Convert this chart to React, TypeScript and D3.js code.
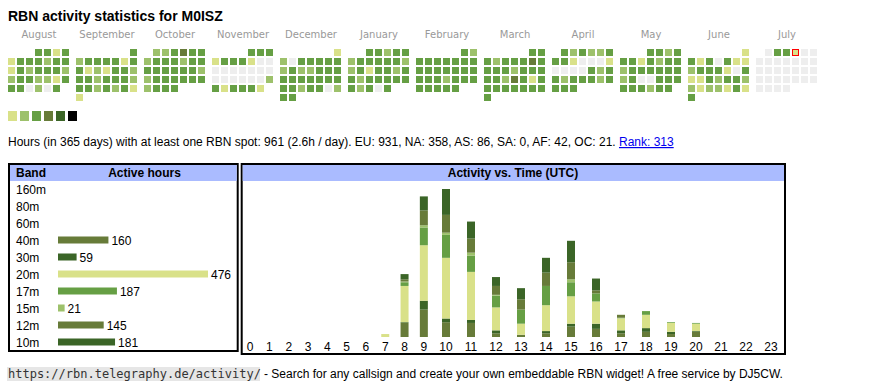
import React, { useRef, useEffect } from "react";
import * as d3 from "d3";

// calendar: Aug 2024 .. Jul 2025, one digit per day (0 = no spot, 1..5 = level)
const monthNames = ["August", "September", "October", "November", "December", "January", "February", "March", "April", "May", "June", "July"];
const monthStarts = ["2024-08", "2024-09", "2024-10", "2024-11", "2024-12", "2025-01", "2025-02", "2025-03", "2025-04", "2025-05", "2025-06", "2025-07"];
const monthLevels = [
  "3313" + "1333233" + "1323332" + "2332213" + "330203",
  "3" + "2333313" + "3121332" + "3323332" + "3323231" + "1",
  "223433" + "2333233" + "3333332" + "2333333" + "2333",
  "333" + "1333100" + "0000000" + "0000002" + "313331",
  "1" + "2033333" + "2322333" + "3333333" + "3323302" + "33",
  "33233" + "2333332" + "2313323" + "3233333" + "32303",
  "32" + "3333333" + "3333333" + "3332333" + "33333",
  "33" + "3233343" + "3332333" + "3324313" + "3333333" + "3",
  "323223" + "3310001" + "0000323" + "3233323" + "333",
  "3323" + "3313233" + "2333333" + "2300333" + "333233",
  "1" + "3130311" + "2333103" + "1132332" + "2122131" + "3",
  "033100" + "0000000" + "0000000" + "0000000" + "0000",
];
const today = "2025-07-04";

const levelColors = ["#eeeeee", "#d9e189", "#9dc16b", "#669f44", "#677b39", "#3b6527", "#000000"];

// bands
const bands = ["160m", "80m", "60m", "40m", "30m", "20m", "17m", "15m", "12m", "10m"];
const bandHours = [0, 0, 0, 160, 59, 476, 187, 21, 145, 181];
const bandColors = ["#3b6527", "#d9e189", "#669f44", "#677b39", "#3b6527", "#d9e189", "#669f44", "#9dc16b", "#677b39", "#3b6527"];

// activity per UTC hour, per band
const hours = d3.range(24).map(String);
const hourly: Record<string, number[]> = {
  "160m": [0, 0, 0, 0, 0, 0, 0, 0, 0, 0, 0, 0, 0, 0, 0, 0, 0, 0, 0, 0, 0, 0, 0, 0],
  "80m": [0, 0, 0, 0, 0, 0, 0, 0, 0, 0, 0, 0, 0, 0, 0, 0, 0, 0, 0, 0, 0, 0, 0, 0],
  "60m": [0, 0, 0, 0, 0, 0, 0, 0, 0, 0, 0, 0, 0, 0, 0, 0, 0, 0, 0, 0, 0, 0, 0, 0],
  "40m": [0, 0, 0, 0, 0, 0, 0, 0, 19, 37, 20, 19, 5, 3, 5, 14, 11, 5, 7, 4, 7, 0, 0, 0],
  "30m": [0, 0, 0, 0, 0, 0, 0, 0, 1, 12, 5, 4, 4, 0, 3, 4, 7, 4, 5, 3, 1, 0, 0, 0],
  "20m": [0, 0, 0, 0, 0, 0, 0, 4, 49, 75, 82, 65, 31, 15, 35, 37, 30, 16, 18, 12, 10, 0, 0, 0],
  "17m": [0, 0, 0, 0, 0, 0, 0, 0, 5, 24, 31, 22, 16, 19, 26, 19, 11, 0, 5, 1, 1, 0, 0, 0],
  "15m": [0, 0, 0, 0, 0, 0, 0, 0, 1, 3, 3, 4, 1, 0, 0, 4, 0, 1, 0, 0, 0, 0, 0, 0],
  "12m": [0, 0, 0, 0, 0, 0, 0, 0, 3, 20, 24, 19, 12, 14, 18, 23, 4, 4, 0, 0, 0, 0, 0, 0],
  "10m": [0, 0, 0, 0, 0, 0, 0, 0, 7, 19, 35, 23, 12, 15, 20, 29, 16, 0, 0, 0, 0, 0, 0, 0],
};

const infoText = "Hours (in 365 days) with at least one RBN spot: 961 (2.6h / day). EU: 931, NA: 358, AS: 86, SA: 0, AF: 42, OC: 21. ";
const rankText = "Rank: 313";
const footerUrl = "https://rbn.telegraphy.de/activity/";
const footerText = "- Search for any callsign and create your own embeddable RBN widget! A free service by DJ5CW.";

const SANS = "'Liberation Sans', Arial, sans-serif";

export default function App() {
  const ref = useRef<SVGSVGElement | null>(null);

  useEffect(() => {
    const width = 870;
    const height = 390;
    d3.select(ref.current).selectAll("*").remove();

    const svg = d3.select(ref.current).attr("width", width).attr("height", height);

    svg.append("text")
      .attr("x", 8).attr("y", 21)
      .style("font", `bold 14px ${SANS}`)
      .text("RBN activity statistics for M0ISZ");

    // --- calendar heatmap
    const cell = 7, pitch = 9, blockW = 68, left = 8, top = 49;
    const parse = d3.timeParse("%Y-%m");
    const fmtDay = d3.timeFormat("%Y-%m-%d");

    monthStarts.forEach((ms, i) => {
      const first = parse(ms)!;
      const offset = (first.getDay() + 6) % 7;
      const x0 = left + blockW * i;
      const g = svg.append("g").attr("transform", `translate(${x0},0)`);

      g.append("text")
        .attr("x", (7 * pitch - 2) / 2 + 0.5).attr("y", 38)
        .attr("text-anchor", "middle")
        .style("font", "10px 'DejaVu Sans', Verdana, sans-serif")
        .style("fill", "#999")
        .text(monthNames[i]);

      const days = monthLevels[i].split("").map((v, d) => {
        const date = d3.timeDay.offset(first, d);
        return { level: +v, col: (offset + d) % 7, row: Math.floor((offset + d) / 7), today: fmtDay(date) === today };
      });

      g.selectAll("rect")
        .data(days)
        .join("rect")
        .attr("x", (d) => d.col * pitch + (d.today ? 0.5 : 0))
        .attr("y", (d) => top + d.row * pitch + (d.today ? 0.5 : 0))
        .attr("width", (d) => (d.today ? cell - 1 : cell))
        .attr("height", (d) => (d.today ? cell - 1 : cell))
        .attr("fill", (d) => levelColors[d.level])
        .attr("stroke", (d) => (d.today ? "#ff0000" : "none"))
        .attr("stroke-width", 1);
    });

    // legend
    svg.append("g")
      .selectAll("rect")
      .data(levelColors.slice(1))
      .join("rect")
      .attr("x", (_, i) => 8 + i * 12)
      .attr("y", 111)
      .attr("width", 9)
      .attr("height", 10)
      .attr("fill", (d) => d);

    const info = svg.append("text")
      .attr("x", 8).attr("y", 146)
      .style("font", `12px ${SANS}`)
      .style("fill", "#000");
    info.append("tspan").text(infoText);
    info.append("tspan").style("fill", "#0000ee").style("text-decoration", "underline").text(rankText);

    // --- band table
    svg.append("rect").attr("x", 9).attr("y", 164).attr("width", 228.7).attr("height", 187)
      .attr("fill", "#fff").attr("stroke", "#000").attr("stroke-width", 2);
    svg.append("rect").attr("x", 10).attr("y", 165).attr("width", 226.7).attr("height", 16).attr("fill", "#aabbff");
    svg.append("text").attr("x", 16).attr("y", 177).style("font", `bold 12px ${SANS}`).text("Band");
    svg.append("text").attr("x", 144.5).attr("y", 177).attr("text-anchor", "middle")
      .style("font", `bold 12px ${SANS}`).text("Active hours");

    const bx = d3.scaleLinear().domain([0, d3.max(bandHours)!]).range([0, 150]);
    const by = d3.scalePoint().domain(bands).range([189, 189 + 17 * (bands.length - 1)]);

    const rows = svg.append("g").selectAll("g")
      .data(bands.map((b, i) => ({ band: b, hours: bandHours[i], color: bandColors[i] })))
      .join("g");
    rows.append("text")
      .attr("x", 16).attr("y", (d) => by(d.band)! + 4.5)
      .style("font", `12px ${SANS}`)
      .text((d) => d.band);
    rows.filter((d) => d.hours > 0).append("rect")
      .attr("x", 58).attr("y", (d) => by(d.band)! - 3.5)
      .attr("width", (d) => bx(d.hours)).attr("height", 7)
      .attr("fill", (d) => d.color);
    rows.filter((d) => d.hours > 0).append("text")
      .attr("x", (d) => 58 + bx(d.hours) + 3).attr("y", (d) => by(d.band)! + 4.5)
      .style("font", `12px ${SANS}`)
      .text((d) => d.hours);

    // --- activity vs time
    svg.append("rect").attr("x", 241.7).attr("y", 164).attr("width", 543.3).attr("height", 190)
      .attr("fill", "#fff").attr("stroke", "#000").attr("stroke-width", 2);
    svg.append("rect").attr("x", 242.7).attr("y", 165).attr("width", 541.3).attr("height", 16).attr("fill", "#aabbff");
    svg.append("text").attr("x", 513).attr("y", 177).attr("text-anchor", "middle")
      .style("font", `bold 12px ${SANS}`).text("Activity vs. Time (UTC)");

    // table-like columns: wider for two-digit hours
    const colW = hours.map((h) => 13.6 + 5.7 * h.length);
    const colStart = [0, ...Array.from(d3.cumsum(colW))];
    const x = d3.scaleOrdinal<string, number>()
      .domain(hours)
      .range(hours.map((_, i) => 240.5 + colStart[i] + colW[i] / 2));

    const table = hours.map((h, i) => {
      const row: Record<string, number | string> = { hour: h };
      bands.forEach((b) => (row[b] = hourly[b][i]));
      return row;
    });
    const series = d3.stack<Record<string, number | string>>().keys(bands)(table);
    const maxTotal = d3.max(series[series.length - 1], (d) => d[1])!;
    const y = d3.scaleLinear().domain([0, maxTotal]).range([337, 189]);

    svg.append("g")
      .selectAll("g")
      .data(series)
      .join("g")
      .attr("fill", (_, i) => bandColors[i])
      .selectAll("rect")
      .data((s) => s.filter((d) => d[1] > d[0]))
      .join("rect")
      .attr("x", (d) => x(String(d.data.hour)) - 4)
      .attr("y", (d) => y(d[1]))
      .attr("width", 8)
      .attr("height", (d) => y(d[0]) - y(d[1]));

    svg.append("g")
      .selectAll("text")
      .data(hours)
      .join("text")
      .attr("x", (d) => x(d))
      .attr("y", 350.5)
      .attr("text-anchor", "middle")
      .style("font", `12px ${SANS}`)
      .text((d) => d);

    // footer
    svg.append("rect").attr("x", 7).attr("y", 367).attr("width", 253).attr("height", 14).attr("fill", "#e6e6e6");
    svg.append("text").attr("x", 8).attr("y", 378)
      .style("font", "12px 'DejaVu Sans Mono', 'Liberation Mono', monospace")
      .style("fill", "#333")
      .text(footerUrl);
    svg.append("text").attr("x", 264).attr("y", 378)
      .style("font", `12px ${SANS}`)
      .text(footerText);
  }, []);

  return (
    <div style={{ position: "absolute", left: 0, top: 0 }}>
      <svg ref={ref}></svg>
    </div>
  );
}
